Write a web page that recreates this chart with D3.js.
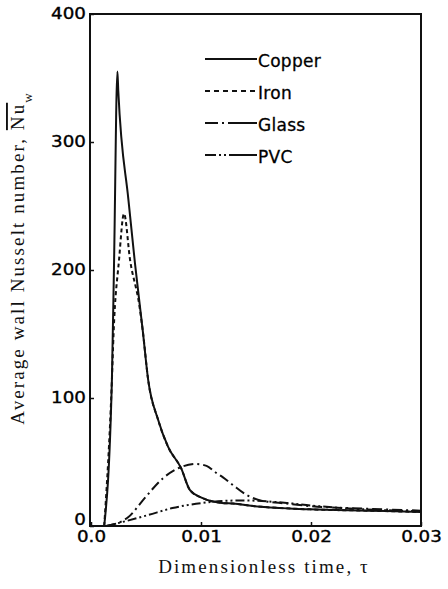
<!DOCTYPE html>
<html>
<head>
<meta charset="utf-8">
<script src="https://cdn.jsdelivr.net/npm/d3@7/dist/d3.min.js"></script>
<style>
    body { margin: 0; background: #fff; }
    svg { display: block; }
    .tick text { font-family: "DejaVu Sans", sans-serif; font-size: 15px; fill: #000; stroke: #000; stroke-width: 0.35px; }
    .legend text { font-family: "DejaVu Sans", sans-serif; font-size: 17px; fill: #000; stroke: #000; stroke-width: 0.3px; letter-spacing: 0.3px; }
    .axis-title { font-family: "Liberation Serif", "Times New Roman", serif; font-size: 19px; fill: #111; letter-spacing: 2.1px; }
</style>
</head>
<body>
<svg id="chart" width="448" height="589"></svg>
<script>
// ============================================
// Values
// ============================================

const copperTau = [0.0012, 0.0019, 0.0021, 0.0024, 0.00248, 0.0034, 0.0040, 0.0047, 0.0052, 0.0061, 0.0070, 0.0082, 0.0090, 0.0101, 0.0119, 0.0129, 0.0149, 0.0199, 0.0251, 0.0300];
const copperNu  = [0, 114, 208, 355, 340, 255, 205, 153, 114, 83, 62, 45, 28, 22, 18, 17.5, 15.5, 13, 12, 11];

const ironTau = [0.0012, 0.0019, 0.00205, 0.00255, 0.0030, 0.00355, 0.0044, 0.0047, 0.0052, 0.0061, 0.0070, 0.0082, 0.0090, 0.0101, 0.0119, 0.0129, 0.0149, 0.0199, 0.0251, 0.0300];
const ironNu  = [0, 114, 150, 208, 244, 208, 172, 153, 114, 83, 62, 45, 28, 22, 18, 17.5, 15.5, 13, 12, 11];

const glassTau = [0.0014, 0.0034, 0.0049, 0.0065, 0.0079, 0.0095, 0.0105, 0.0113, 0.0120, 0.0129, 0.0142, 0.0154, 0.0178, 0.0200, 0.0250, 0.0300];
const glassNu  = [0, 7, 22, 37, 45, 48.5, 47, 42, 38, 32, 24, 20, 17.5, 15.5, 13.5, 12];

const pvcTau = [0.0014, 0.0028, 0.0052, 0.0074, 0.0101, 0.0138, 0.0178, 0.0200, 0.0250, 0.0300];
const pvcNu  = [0, 3, 8.6, 14, 18, 20, 18, 16, 13, 11.5];

const seriesNames = ['Copper', 'Iron', 'Glass', 'PVC'];

const xTicks = [0, 0.01, 0.02, 0.03];
const xTickLabels = ['0.0', '0.01', '0.02', '0.03'];
const yTicks = [0, 100, 200, 300, 400];

// ============================================
// Drawing
// ============================================

const svg = d3.select('#chart');

const x = d3.scaleLinear().domain([0, 0.03]).range([91, 421]);
const y = d3.scaleLinear().domain([0, 400]).range([526, 14]);

const labelScale = 1.22;   // the printed digits are wider than DejaVu's

// frame
svg.append('rect')
    .attr('x', x(0) - 1)
    .attr('y', y(400))
    .attr('width', x(0.03) - x(0) + 1)
    .attr('height', y(0) - y(400))
    .attr('fill', 'none')
    .attr('stroke', '#111')
    .attr('stroke-width', 2);

// y axis
const yAxis = svg.append('g')
    .attr('transform', `translate(${x(0) - 1},0)`)
    .call(d3.axisLeft(y).tickValues(yTicks).tickSize(-4).tickFormat(d3.format('d')));
yAxis.select('.domain').remove();
yAxis.selectAll('line').attr('stroke', '#111').attr('stroke-width', 1.5);
yAxis.selectAll('text')
    .attr('x', -4 / labelScale)
    .attr('y', d => d === 0 ? -6 : 0)
    .attr('transform', `scale(${labelScale},1)`);

// x axis
const xAxis = svg.append('g')
    .attr('transform', `translate(0,${y(0)})`)
    .call(d3.axisBottom(x).tickValues(xTicks).tickSize(-4).tickFormat((d, i) => xTickLabels[i]));
xAxis.select('.domain').remove();
xAxis.selectAll('line').attr('stroke', '#111').attr('stroke-width', 1.5);
xAxis.selectAll('text')
    .attr('y', 5)
    .attr('x', 0)
    .attr('transform', `scale(${labelScale},1)`);

// curves
const series = [
    { name: 'Copper', tau: copperTau, nu: copperNu, dash: null },
    { name: 'Iron', tau: ironTau, nu: ironNu, dash: '4,3' },
    { name: 'Glass', tau: glassTau, nu: glassNu, dash: '10,4,2,4' },
    { name: 'PVC', tau: pvcTau, nu: pvcNu, dash: '9,3,2,3,2,3' }
];

const legendDash = {
    Copper: null,
    Iron: '5,4',
    Glass: '13,4,2,4,40',
    PVC: '11,3,2,3,2,3,40'
};

const line = d3.line()
    .x(d => x(d[0]))
    .y(d => y(d[1]))
    .curve(d3.curveMonotoneX);

series.forEach(s => {
    const pts = s.tau.map((t, i) => [t, s.nu[i]]);
    svg.append('path')
        .datum(pts)
        .attr('d', line)
        .attr('fill', 'none')
        .attr('stroke', '#111')
        .attr('stroke-width', 2)
        .attr('stroke-linejoin', 'round')
        .attr('stroke-dasharray', s.dash);
});

// legend
const legend = svg.append('g')
    .attr('class', 'legend')
    .attr('transform', 'translate(205,59)');

const row = legend.selectAll('g')
    .data(seriesNames)
    .join('g')
    .attr('transform', (d, i) => `translate(0,${i * 32})`);

row.append('line')
    .attr('x1', 0)
    .attr('x2', 52)
    .attr('stroke', '#111')
    .attr('stroke-width', 2)
    .attr('stroke-dasharray', d => legendDash[d]);

row.append('text')
    .attr('x', 53)
    .attr('y', 8)
    .text(d => d);

// axis titles
const yTitle = svg.append('text')
    .attr('class', 'axis-title')
    .attr('text-anchor', 'middle')
    .attr('transform', 'translate(24,258) rotate(-90)');
yTitle.append('tspan').text('Average wall Nusselt number, ');
yTitle.append('tspan').style('text-decoration', 'overline').text('Nu');
yTitle.append('tspan').attr('baseline-shift', 'sub').style('font-size', '13px').text('w');

svg.append('text')
    .attr('class', 'axis-title')
    .attr('text-anchor', 'middle')
    .attr('x', 264)
    .attr('y', 573)
    .text('Dimensionless time, τ');
</script>
</body>
</html>
